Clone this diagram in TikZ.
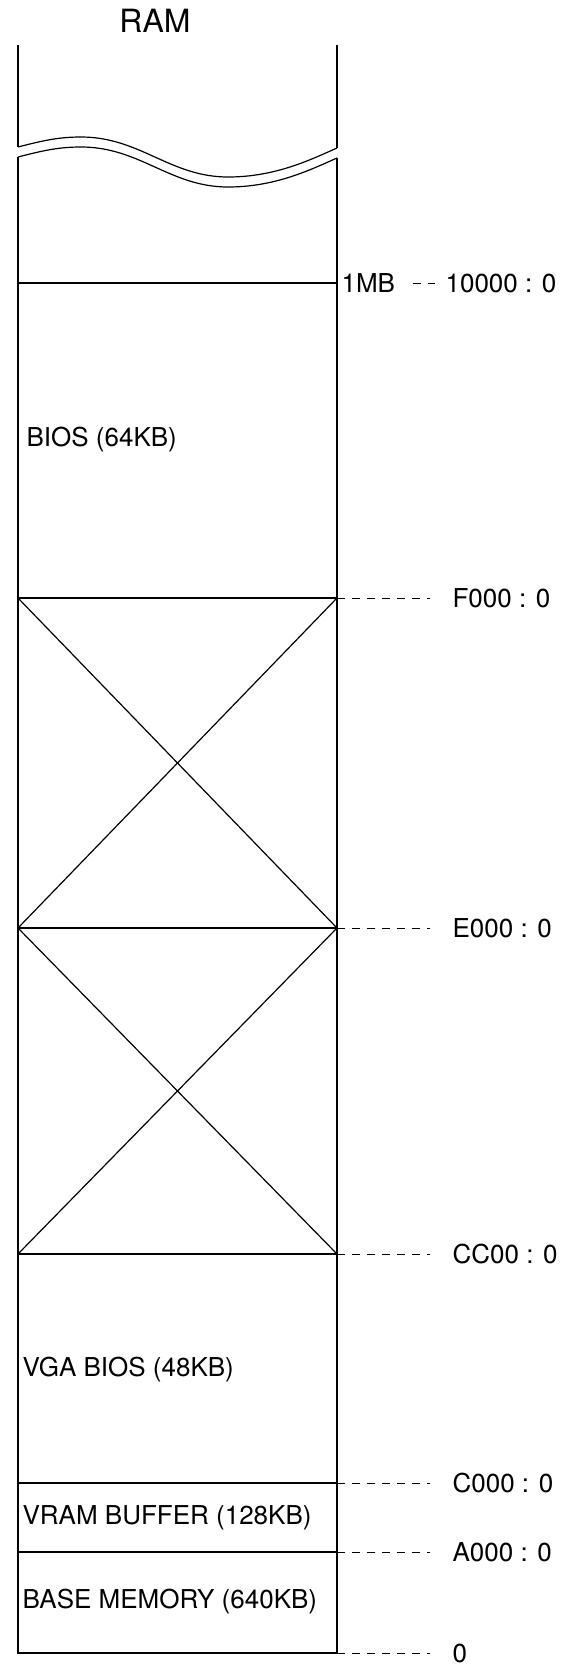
\documentclass[tikz,border=0pt]{standalone}
\usepackage{fontspec}
\setmainfont{TeX Gyre Heros}

\begin{document}
\begin{tikzpicture}[x=1pt, y=-1pt, line width=1.2pt,
    region/.style={anchor=west, inner sep=0pt, font=\fontsize{26}{30}\selectfont},
    addr/.style={anchor=west, inner sep=0pt, font=\fontsize{26}{30}\selectfont},
    leader/.style={line width=1pt, dash pattern=on 8pt off 7pt}]
\useasboundingbox (0,0) rectangle (573,1666);

% Title
\node[font=\fontsize{32}{36}\selectfont] (ram) at (155,21) {RAM};

% Walls above the break
\draw (18,45) -- (18,147);
\draw (337,45) -- (337,148);

% Break (two wavy edges)
\draw (18,147) .. controls (45,140) and (60,137) .. (81,137)
      .. controls (140,137) and (170,177) .. (228,177)
      .. controls (275,177) and (310,160) .. (337,148);
\draw (18,157) .. controls (45,150) and (60,147) .. (81,147)
      .. controls (140,147) and (170,187) .. (228,187)
      .. controls (275,187) and (310,170) .. (337,158);

% Boundaries
\coordinate (mbl) at (18,283);   \coordinate (mbr) at (337,283);
\coordinate (fl) at (18,598);    \coordinate (fr) at (337,598);
\coordinate (el) at (18,928);    \coordinate (er) at (337,928);
\coordinate (ccl) at (18,1254);  \coordinate (ccr) at (337,1254);
\coordinate (cl) at (18,1483);   \coordinate (cr) at (337,1483);
\coordinate (al) at (18,1552);   \coordinate (ar) at (337,1552);
\coordinate (zl) at (18,1653);   \coordinate (zr) at (337,1653);

% Walls below the break
\draw (18,157) -- (zl) -- (zr) -- (337,158);
\draw (mbl) -- (mbr);
\draw (fl) -- (fr);
\draw (el) -- (er);
\draw (ccl) -- (ccr);
\draw (cl) -- (cr);
\draw (al) -- (ar);

% Unused areas
\draw (fl) -- (er);
\draw (fr) -- (el);
\draw (el) -- (ccr);
\draw (er) -- (ccl);

% Region labels
\node[region] (bios) at (26,440) {BIOS (64KB)};
\node[region] (vga) at (22,1370) {VGA BIOS (48KB)};
\node[region] (vram) at (22,1518) {VRAM BUFFER (128KB)};
\node[region] (base) at (22,1602) {BASE MEMORY (640KB)};

% Addresses
\node[addr] (mb) at (341,283) {1MB};
\node[addr] (a10000) at (445,283) {10000 : 0};
\draw[leader] ([xshift=17pt]mb.east) -- ([xshift=-10pt]a10000.west);

\node[addr] (af000) at (452,598) {F000 : 0};
\draw[leader] (fr) -- ([xshift=-22pt]af000.west);
\node[addr] (ae000) at (452,928) {E000 : 0};
\draw[leader] (er) -- ([xshift=-22pt]ae000.west);
\node[addr] (acc00) at (452,1254) {CC00 : 0};
\draw[leader] (ccr) -- ([xshift=-22pt]acc00.west);
\node[addr] (ac000) at (452,1483) {C000 : 0};
\draw[leader] (cr) -- ([xshift=-22pt]ac000.west);
\node[addr] (aa000) at (452,1552) {A000 : 0};
\draw[leader] (ar) -- ([xshift=-22pt]aa000.west);
\node[addr] (azero) at (452,1653) {0};
\draw[leader] (zr) -- ([xshift=-22pt]azero.west);
\end{tikzpicture}
\end{document}
